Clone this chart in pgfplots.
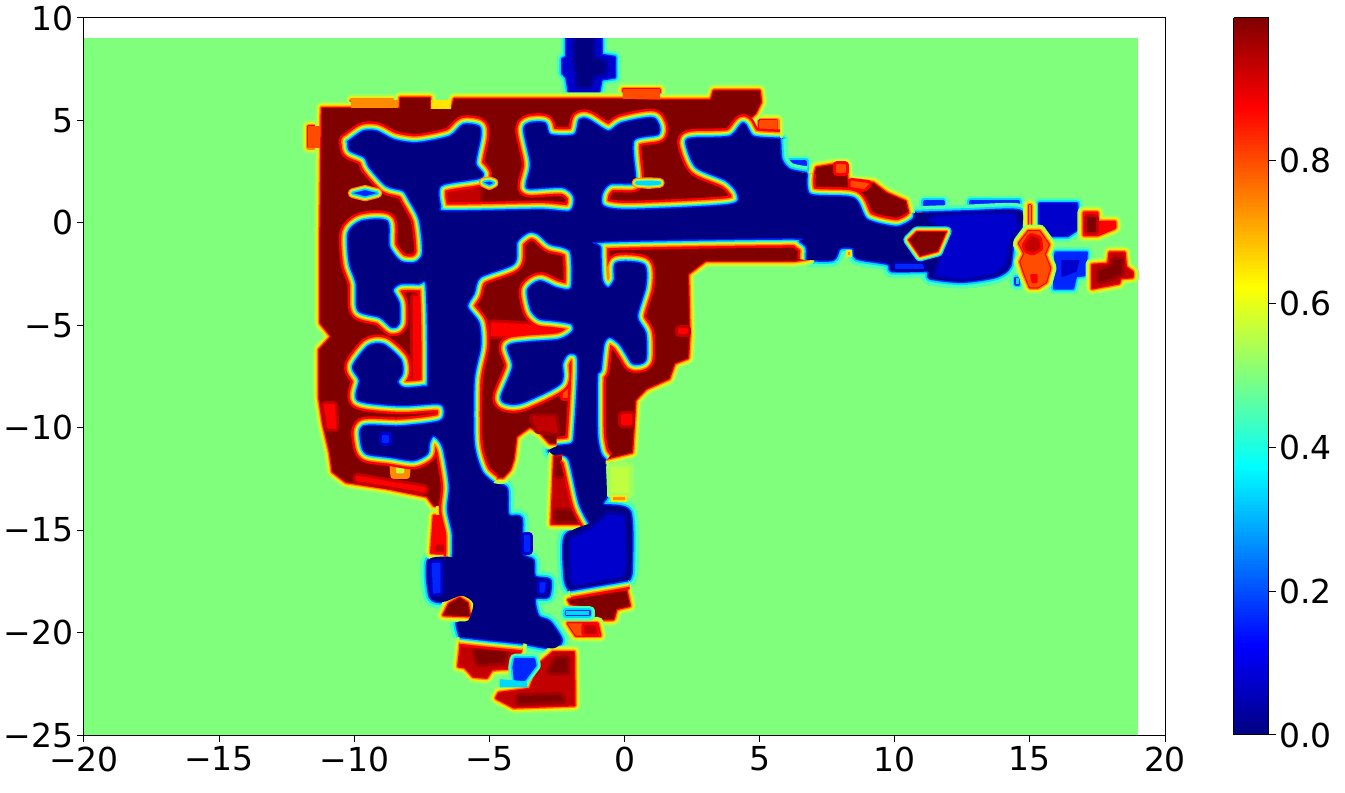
\documentclass[border=0pt]{standalone}
\usepackage{fontspec}
\setmainfont{DejaVu Sans}
\usepackage{pgfplots}
\pgfplotsset{compat=1.18}
\definecolor{jBG}{rgb}{.5,1,.49}
\definecolor{jDR}{rgb}{.5,0,0}
\definecolor{jMR}{rgb}{.63,0,0}
\definecolor{jRD}{rgb}{.76,0,0}
\definecolor{jR}{rgb}{1,0,0}
\definecolor{jRO}{rgb}{1,.3,0}
\definecolor{jO}{rgb}{1,.55,0}
\definecolor{jY}{rgb}{1,.9,0}
\definecolor{jL}{rgb}{.75,1,.25}
\definecolor{jLL}{rgb}{.62,1,.37}
\definecolor{jC}{rgb}{0,.85,1}
\definecolor{jA}{rgb}{.3,1,.7}
\definecolor{jB}{rgb}{0,.15,1}
\definecolor{jM}{rgb}{0,0,.8}
\definecolor{jMB}{rgb}{0,0,.65}
\definecolor{jDB}{rgb}{0,0,.5}
\pgfplotsset{
  st/.style={no markers,fill=none,line cap=butt,line join=round,smooth,tension=0.45},
  hl/.style={no markers,fill=none,line join=round,line cap=round}}
\newcommand\RP[2]{%
 \addplot[hl,draw=jLL,line width=13pt] coordinates {#2} -- cycle;
 \addplot[hl,draw=jL,line width=10pt] coordinates {#2} -- cycle;
 \addplot[hl,draw=jY,line width=7.5pt] coordinates {#2} -- cycle;
 \addplot[hl,draw=jO,line width=5pt] coordinates {#2} -- cycle;
 \addplot[hl,draw=jR,line width=2.5pt] coordinates {#2} -- cycle;
 \addplot[no markers,draw=none,fill=#1] coordinates {#2} -- cycle;}
\newcommand\BP[2]{%
 \addplot[hl,draw=jA,line width=11pt] coordinates {#2} -- cycle;
 \addplot[hl,draw=jC,line width=6pt] coordinates {#2} -- cycle;
 \addplot[hl,draw=jB,line width=2.5pt] coordinates {#2} -- cycle;
 \addplot[no markers,draw=none,fill=#1] coordinates {#2} -- cycle;}
\newcommand\PP[2]{\addplot[no markers,draw=#1,line width=1pt,line join=round,fill=#1] coordinates {#2} -- cycle;}
% patch with a soft edge: edge colour, colour, points
\newcommand\PM[3]{%
 \addplot[hl,draw=#1,line width=8pt] coordinates {#3} -- cycle;
 \addplot[no markers,draw=#2,line width=2pt,line join=round,fill=#2] coordinates {#3} -- cycle;}
\newcommand\SB[2]{%
 \addplot[hl,draw=jO,line width=10pt] coordinates {#2} -- cycle;
 \addplot[hl,draw=jY,line width=7.5pt] coordinates {#2} -- cycle;
 \addplot[hl,draw=jBG,line width=5.5pt] coordinates {#2} -- cycle;
 \addplot[hl,draw=jC,line width=3.5pt] coordinates {#2} -- cycle;
 \addplot[no markers,draw=none,fill=#1] coordinates {#2} -- cycle;}
\newcommand\rainX[1]{%
 \addplot[st,draw=jR,line width=19pt] coordinates {#1};
 \addplot[st,draw=jO,line width=14pt] coordinates {#1};
 \addplot[st,draw=jY,line width=11pt] coordinates {#1};
 \addplot[st,draw=jBG,line width=8.5pt] coordinates {#1};
 \addplot[st,draw=jC,line width=6pt] coordinates {#1};
 \addplot[st,draw=jB,line width=3pt] coordinates {#1};}
\newcommand\coolX[1]{%
 \addplot[st,draw=jA,line width=14pt] coordinates {#1};
 \addplot[st,draw=jC,line width=7pt] coordinates {#1};
 \addplot[st,draw=jB,line width=3pt] coordinates {#1};}
\newcommand\rain[1]{\edef\tmpc{#1}\expandafter\rainX\expandafter{\tmpc}}
\newcommand\cool[1]{\edef\tmpc{#1}\expandafter\coolX\expandafter{\tmpc}}
\newcommand\coreX[1]{\addplot[no markers,draw=none,fill=jDB,smooth,tension=0.45] coordinates {#1};}
\def\segA{(-10.2,3.96)(-9.66,4.45)(-9.17,4.45)(-8.55,4.04)(-7.69,3.88)(-6.46,4.2)(-5.96,4.77)(-5.4,4.69)(-5.35,4.2)(-5.53,2.9)(-5.28,2.25)(-6.8,1.85)(-6.83,.8)(-6.6,.55)(-3.13,.62)(-2,.55)(-1.84,1.28)(-2.27,1.76)(-3.5,1.7)(-3.6,1.93)(-3.45,2.9)(-3.7,4.53)(-3.5,4.85)(-2.95,4.85)(-2.76,4.28)(-1.84,4.28)(-1.65,5.02)(-1.34,5.02)(-.6,4.45)(-.1,4.85)(1.06,5.1)(1.25,4.37)(.32,4.04)(.38,2.25)(.3,1.95)(-.54,1.93)(-.85,1.44)(-.8,.8)(.2,.62)(3.9,.87)(4.2,1.44)(3.77,2.09)(2.67,2.74)(2.3,3.9)(2.54,4.12)(3.9,4.2)(4.4,4.85)(4.76,4.2)(5.75,4.1)}
\def\segB{(5.75,4.1)(5.8,3.1)(6.1,2.6)(6.74,2.42)}
\def\segC{(6.74,2.42)(6.86,1.37)(8.46,1.2)(8.96,.15)(10.07,-.21)(10.68,.15)(10.74,.47)}
\def\segD{(10.74,.47)(12.66,.55)(14.6,.6)(14.7,-.18)(14.4,-.83)(14.26,-2.13)(13.76,-2.62)(12.5,-2.87)(11.3,-2.7)(11.2,-2.35)(9.9,-2.35)(9.75,-2)(8.59,-1.73)(8.46,-1.24)(7.97,-1.24)(7.72,-1.8)(6.75,-1.8)}
\def\segE{(6.75,-1.8)(6.75,-1.2)(6.5,-.9)(6.12,-.75)(-.8,-.9)(-.9,-1.24)(-.85,-2.79)(-.6,-3.2)(-.35,-2.79)(-.29,-1.97)(.7,-2.06)(.76,-3.1)(.45,-4.58)(.76,-5.39)(.76,-6.69)(.33,-6.85)(.08,-6.37)(-.17,-5.88)(-.54,-5.55)(-.78,-5.88)(-.9,-7.18)(-1.03,-7.5)(-1.03,-10.27)(-.9,-11.25)(-.7,-11.6)}
\def\segF{(-.7,-11.6)(-.66,-12.7)(-.66,-13.37)(-.79,-13.77)(.2,-14.1)(.26,-16.95)(.14,-17.43)}
\def\segG{(.14,-17.43)(-2.02,-17.92)}
\def\segH{(-2.02,-17.92)(-2.2,-17.43)(-2.2,-15.3)(-1.28,-14.67)}
\def\segIa{(-1.28,-14.67)(-1.65,-13.69)(-2.02,-11.58)(-2.3,-11.3)}
\def\segIb{(-2.3,-11.3)(-2.6,-11.35)(-2.8,-11.1)(-2.5,-10.9)}
\def\segI{(-2.5,-10.9)(-1.95,-10.8)(-1.83,-10.27)(-1.7,-6.69)(-2.08,-6.37)(-2.32,-6.85)(-2.39,-7.83)(-3.74,-8.73)(-4.3,-8.8)(-4.54,-8.5)(-4.11,-7.02)(-4.3,-6.04)(-3.62,-5.85)(-2.4,-5.72)(-1.89,-5.31)(-1.95,-4.9)(-2.63,-4.74)(-3.13,-4.66)(-3.43,-4.25)(-3.56,-3.28)(-3.13,-2.87)(-2.51,-3.2)(-1.95,-3.2)(-1.95,-1.49)(-2.26,-1.16)(-2.76,-1)(-3.19,-.51)(-3.56,-.43)(-4,-.92)(-4.11,-1.97)(-5.35,-2.63)(-5.59,-3.44)(-5.84,-4.09)(-5.41,-4.9)(-5.35,-6.04)(-5.59,-7.67)(-5.59,-10.76)(-5.29,-12.15)(-4.86,-12.7)}
\def\segJ{(-4.86,-12.7)(-4.36,-12.96)(-4.3,-14.26)(-3.81,-14.42)(-3.81,-16.13)(-3.38,-16.46)(-3.32,-17.27)(-2.76,-17.43)(-2.82,-18.25)(-3.32,-18.33)(-3.19,-19.2)(-2.76,-19.47)(-2.33,-20.36)(-2.64,-20.77)(-3.75,-20.52)}
\def\segK{(-3.75,-20.52)(-4.98,-20.36)(-6.09,-20.2)}
\def\segL{(-6.09,-20.2)(-6.2,-19.5)(-5.78,-19.4)(-5.6,-18.57)(-6.03,-18.2)(-6.7,-18.5)(-7.2,-18.25)(-7.26,-16.46)(-6.34,-16.3)}
\def\segM{(-6.34,-16.3)(-6.34,-15.15)(-6.52,-14)(-6.45,-12.8)(-6.7,-10.92)(-7.07,-10.35)(-7.25,-10.76)(-7.31,-11.25)(-7.81,-11.57)(-8.67,-11.41)(-9.53,-11.25)(-9.72,-10.76)(-9.66,-9.95)(-8.3,-9.95)(-6.82,-9.7)(-6.64,-9.13)(-6.88,-8.8)(-8.3,-8.89)(-9.84,-8.64)(-9.78,-7.67)(-10.03,-7.02)(-9.47,-6.04)(-8.92,-5.96)(-8.3,-6.69)(-8.24,-7.34)(-8.42,-7.75)(-8.18,-8.07)(-7.44,-8)(-7.25,-7.67)(-7.31,-3.11)(-7.62,-2.95)(-8.3,-2.95)(-8.6,-3.28)(-8.36,-3.93)(-8.36,-4.9)(-8.6,-5.07)(-9.04,-4.58)(-9.84,-4.25)(-9.9,-2.95)(-10.15,-1.97)(-10.2,-.51)(-9.72,.06)(-8.8,.06)(-8.73,-1.16)(-8.3,-1.9)(-7.75,-1.97)(-7.44,-1.49)(-7.56,.14)(-7.93,1.11)(-8.18,1.6)(-8.8,1.84)(-9.42,2.74)(-9.6,3.22)(-10.15,3.55)(-10.2,3.96)}
\begin{document}
\begin{tikzpicture}
\useasboundingbox (-84pt,-58pt) rectangle (1261pt,735pt);
\begin{axis}[
  at={(0pt,0pt)},anchor=south west,
  scale only axis,width=1081pt,height=717pt,
  xmin=-20,xmax=20,ymin=-25,ymax=10,
  axis on top,
  axis line style={black,line width=1pt},
  tick style={black,line width=1pt},
  major tick length=7pt,
  tick align=outside,
  xtick pos=bottom,ytick pos=left,
  xtick={-20,-15,-10,-5,0,5,10,15,20},
  xticklabels={−20,−15,−10,−5,0,5,10,15,20},
  ytick={-25,-20,-15,-10,-5,0,5,10},
  yticklabels={−25,−20,−15,−10,−5,0,5,10},
  tick label style={font=\fontsize{33}{40}\selectfont},
  xticklabel style={yshift=-1pt},
  colormap/jet,
  point meta min=0,point meta max=0.998,
  colorbar sampled,
  colorbar style={
    at={(parent axis.north east)},anchor=north west,xshift=60pt,
    scale only axis,width=35pt,height=717pt,
    samples=256,
    ytick={0,0.2,0.4,0.6,0.8},
    yticklabels={0.0,0.2,0.4,0.6,0.8},
    ytick pos=right,yticklabel pos=right,
    axis line style={black,line width=1pt},
    tick style={black,line width=1pt},
    major tick length=7pt,tick align=outside,
    tick label style={font=\fontsize{33}{40}\selectfont},
  },
]
\addplot[no markers,draw=none,fill=jBG] coordinates {(-20,-25)(19,-25)(19,9)(-20,9)} -- cycle;
% top stub of free space
\BP{jM}{(-2.15,9.6)(-.85,9.6)(-.85,8.2)(-.35,8.1)(-.35,7.1)(-.85,7)(-.95,6.3)(-2.05,6.3)(-2.15,7.1)(-2.3,7.3)(-2.3,8)(-2.15,8.1)}
\PM{jMB}{jDB}{(-1.8,9.2)(-1.2,9.2)(-1.2,8)(-.75,7.8)(-.75,7.4)(-1.2,7.2)(-1.3,6.7)(-1.7,6.7)(-1.7,7.3)(-1.8,7.8)}
% light patches at the edge of the free space
\BP{jB}{(5,4.1)(5.85,4.1)(5.85,3.1)(5,3.1)}
\BP{jB}{(6.1,3)(6.7,3)(6.7,2.4)(6.1,2.4)}
\BP{jB}{(11.1,1.05)(11.8,1.05)(11.8,.4)(11.1,.4)}
\BP{jB}{(12.8,1.05)(14.6,1.05)(14.6,.4)(12.8,.4)}
% blobs at the far right
\BP{jM}{(15.35,.95)(16.75,.95)(16.8,-.3)(16.4,-.65)(15.8,-.65)(15.35,-.15)}
\BP{jB}{(15.95,-1.45)(17.1,-1.45)(17.05,-2.55)(16.7,-2.6)(16.6,-3.2)(15.9,-3.2)}
\PM{jB}{jM}{(16.2,-1.85)(16.8,-1.85)(16.7,-2.35)(16.2,-2.6)}
\BP{jC}{(14.47,-2.7)(14.6,-2.7)(14.6,-3.0)(14.47,-3.0)}
% free-space edges beside the unknown area
\cool{\segB}\cool{\segD}\cool{\segF}\cool{\segH}\cool{\segIb}\cool{\segJ}\cool{\segL}
% occupied cells
\RP{jRO}{(-11.7,4.7)(-11.1,4.7)(-11.1,3.7)(-11.7,3.7)}
\RP{jO}{(-10.1,5.6)(-8.4,5.6)(-8.4,5.95)(-10.1,5.95)}
\RP{jRO}{(-.05,6)(1.3,6)(1.3,6.5)(-.05,6.5)}
\RP{jRO}{(5,5)(5.65,5)(5.65,4.35)(5,4.35)}
\RP{jDR}{(-11.2,5.6)(-8.3,5.6)(-8.3,6.1)(-7.2,6.1)(-7.2,5.55)(-6.4,5.55)(-6.3,6.05)(-.1,6.05)(1.4,6)(3.2,6)(3.3,6.45)(5,6.45)(5.05,5.9)(4.85,5.35)(4.3,4.7)(3.4,4.1)(2.4,4.1)(2.4,3)(3.8,2.2)(4.3,1.4)(3.9,.75)(.2,.5)(-1.9,-1.2)(-1.85,-3.2)(-1.8,-5)(-1.65,-6.7)(-1.75,-10.3)(-2,-10.76)(-2.76,-10.76)(-3.1,-10.27)(-3.5,-9.95)(-4,-10.43)(-4.11,-11.57)(-4.24,-12.06)(-4.49,-12.42)(-4.98,-12.42)(-5.35,-11.98)(-6.3,-13.2)(-6.45,-13.8)(-7.05,-13.8)(-7.3,-13.35)(-8.8,-12.95)(-10.3,-12.65)(-10.8,-12.15)(-10.9,-11.2)(-11.15,-9.8)(-11.3,-8.5)(-11.3,-6.2)(-10.85,-5.55)(-11.25,-4.9)(-11.25,-.35)}
% brighter cells over the walls
\PP{jRO}{(-11.7,4.7)(-11.3,4.7)(-11.3,3.7)(-11.7,3.7)}
\PP{jO}{(-10.1,5.62)(-8.4,5.62)(-8.4,5.95)(-10.1,5.95)}
\PP{jY}{(-7.15,5.6)(-6.45,5.6)(-6.45,5.95)(-7.15,5.95)}
\PP{jRO}{(-.05,6.08)(1.3,6.05)(1.3,6.5)(-.05,6.5)}
\PP{jRO}{(5,4.95)(5.65,5)(5.65,4.35)(5,4.35)}
\PM{jRD}{jR}{(-11.1,-8.9)(-10.75,-8.9)(-10.7,-10)(-10.95,-10)}
\PM{jRD}{jR}{(-9.9,-12.4)(-7.4,-12.95)(-7.4,-13.1)(-9.9,-12.55)}
\PM{jRD}{jR}{(-4.9,-4.9)(-2.3,-5.1)(-2.3,-5.4)(-4.9,-5.5)}
\PM{jR}{jRO}{(-2.2,-6.7)(-1.95,-6.7)(-1.9,-8.5)(-2.25,-8.5)}
\PM{jRD}{jR}{(-7.8,-3.6)(-7.4,-3.6)(-7.4,-7.7)(-7.8,-7.7)}
\PM{jMR}{jRD}{(-6.5,.85)(-5.4,.85)(-5.4,1.6)(-6.5,1.6)}
\PM{jMR}{jRD}{(-3.4,-9.5)(-2.6,-9.5)(-2.5,-10.2)(-3.2,-10.1)}
% right wall, diagonal wall, far right
\RP{jDR}{(-.8,-.85)(6.1,-.7)(6.8,-1)(6.8,-1.75)(6.3,-1.85)(3,-1.85)(2.35,-2.5)(2.4,-5.5)(2.35,-6.6)(1.85,-6.85)(1.65,-7.6)(.8,-8.1)(.4,-8.65)(.28,-11.2)(-.66,-11.5)(-.9,-11.1)(-1,-7)(-.9,-1.2)}
\PM{jRD}{jR}{(2,-5.2)(2.3,-5.2)(2.3,-5.4)(2,-5.4)}
\PM{jRD}{jR}{(-.1,-9.4)(.25,-9.4)(.25,-9.8)(-.1,-9.8)}
\RP{jDR}{(7.1,2.7)(7.8,2.85)(8.2,2.85)(8.25,2.05)(9.2,1.95)(9.7,1.45)(10.4,1.05)(10.55,.2)(10.07,-.15)(9.2,.06)(8.59,1.12)(7,1.3)(6.9,1.6)}
\PM{jR}{jRO}{(7.85,2.8)(8.15,2.8)(8.15,2.5)(7.85,2.5)}
\PM{jR}{jRO}{(8.4,2)(9,1.9)(8.85,1.7)(8.4,1.8)}
\RP{jO}{(14.97,.85)(15.03,.85)(15.03,-.15)(14.97,-.15)}
\RP{jRO}{(14.6,-1)(14.95,-.4)(15.35,-.4)(15.7,-1.05)(15.55,-1.55)(15.75,-2.2)(15.6,-2.9)(15.3,-3.15)(15,-3.15)(14.8,-2.5)(14.65,-1.9)(14.8,-1.5)}
\PM{jR}{jRD}{(14.85,-1.1)(15.05,-.7)(15.3,-.8)(15.35,-1.2)(15.1,-1.4)(14.9,-1.3)}
\PM{jRO}{jR}{(15.05,-2.55)(15.25,-2.55)(15.25,-2.9)(15.1,-2.9)}
\RP{jR}{(17,.5)(17.5,.5)(17.5,.05)(18.15,.05)(18.15,-.25)(17.5,-.6)(17,-.6)}
\PM{jRD}{jDR}{(17.15,.25)(17.4,.25)(17.4,-.4)(17.15,-.4)}
\RP{jRD}{(17.3,-2.05)(17.9,-2)(17.95,-1.45)(18.5,-1.45)(18.55,-2.15)(18.8,-2.4)(18.8,-2.65)(18.35,-2.7)(18.3,-2.95)(17.3,-3.2)}
\PM{jMR}{jDR}{(17.6,-2.35)(18,-2.25)(18.15,-1.85)(18.35,-1.85)(18.35,-2.45)(17.9,-2.7)(17.6,-2.8)}
\RP{jR}{(-7.05,-14.3)(-6.55,-14.3)(-6.45,-16.1)(-7.15,-16.1)}
\PM{jR}{jRD}{(-6.95,-15.75)(-6.6,-15.75)(-6.55,-16)(-7,-16)}
\PP{jY}{(-6.95,-13.85)(-6.55,-13.85)(-6.55,-14.25)(-6.95,-14.25)}
\RP{jRD}{(-2.6,-11.4)(-2.1,-11.4)(-1.6,-13.9)(-1.4,-14.7)(-2.7,-14.7)}
\PM{jMR}{jDR}{(-2.45,-11.6)(-2.2,-11.6)(-2.05,-12.3)(-2.5,-12.3)}
\PM{jMR}{jDR}{(-2.5,-14.1)(-1.75,-14.1)(-1.6,-14.5)(-2.5,-14.5)}
\RP{jDR}{(-6.7,-19.15)(-6.5,-18.6)(-6.1,-18.3)(-5.8,-18.55)(-5.72,-19.2)}
\RP{jDR}{(-2.08,-18.4)(.07,-17.95)(.2,-18.7)(-.3,-18.85)(-.4,-19.35)(-1.05,-19.35)(-1.28,-18.8)(-2,-18.6)}
\RP{jRO}{(-2.1,-19.55)(-1,-19.55)(-.9,-20.15)(-1.8,-20.15)}
\PM{jR}{jRD}{(-1.45,-19.7)(-1.1,-19.7)(-1.05,-20)(-1.45,-20)}
\BP{jC}{(-2.15,-18.95)(-1.3,-18.95)(-1.3,-19.15)(-2.15,-19.15)}
\RP{jRD}{(-6.05,-20.5)(-3.85,-20.65)(-3.9,-21.2)(-4.2,-21.75)(-4.9,-21.8)(-5.1,-22.2)(-5.6,-22.15)(-5.9,-21.7)(-6.15,-21.65)}
\PM{jMR}{jDR}{(-5.5,-20.9)(-4.4,-20.95)(-4.5,-21.4)(-5.4,-21.5)}
\RP{jRD}{(-2.64,-20.95)(-1.87,-20.95)(-1.85,-23.55)(-4.1,-23.65)(-4.75,-23.2)(-4.65,-22.95)(-3.5,-22.75)(-3.13,-21.5)}
\PM{jMR}{jDR}{(-2.5,-21.3)(-2.15,-21.3)(-2.15,-21.9)(-2.75,-21.9)}
\PM{jMR}{jDR}{(-3.9,-23.15)(-2.4,-23.1)(-2.3,-23.3)(-3.9,-23.4)}
\BP{jB}{(-4.05,-21.3)(-3.35,-21.3)(-3.3,-21.6)(-3.7,-22.3)(-4.05,-22.3)(-4.1,-21.7)}
\PP{jC}{(-4.6,-22.3)(-3.65,-22.4)(-3.6,-22.65)(-4.6,-22.65)}
% yellowish traces beside the walls
\addplot[no markers,draw=jO,fill=jY,line width=6pt,line join=round] coordinates {(-8.6,-11.6)(-8,-11.6)(-8.05,-12.35)(-8.55,-12.35)} -- cycle;
\addplot[no markers,draw=jL,fill=jL,line width=1pt] coordinates {(-8.45,-11.75)(-8.15,-11.75)(-8.2,-12.2)(-8.4,-12.2)} -- cycle;
\addplot[hl,draw=jLL,line width=10pt] coordinates {(-.5,-11.9)(.15,-11.9)(.15,-13.2)(-.5,-13.2)} -- cycle;
\addplot[no markers,draw=none,fill=jL] coordinates {(-.5,-11.9)(.15,-11.9)(.15,-13.2)(-.5,-13.2)} -- cycle;
\addplot[no markers,draw=jY,fill=jO,line width=2pt] coordinates {(-.45,-13.35)(.05,-13.35)(.05,-13.6)(-.45,-13.6)} -- cycle;
\addplot[no markers,draw=jY,fill=jO,line width=2pt] coordinates {(8.22,-1.35)(8.38,-1.35)(8.38,-1.6)(8.22,-1.6)} -- cycle;
% free-space edges inside the walls
\rain{\segM\segA}\rain{\segC}\rain{\segE}\rain{\segG}\rain{\segIa}\rain{\segI}\rain{\segK}
% free space
\edef\tmpc{\segA\segB\segC\segD\segE\segF\segG\segH\segIa\segIb\segI\segJ\segK\segL\segM}
\expandafter\coreX\expandafter{\tmpc}
% lighter parts of the free space
\PM{jMB}{jM}{(11.55,.25)(12.66,.35)(14.4,.4)(14.5,-.18)(14.2,-.83)(14.05,-2.05)(13.6,-2.45)(12.5,-2.67)(11.55,-2.5)(11.8,-1.6)(12.2,-.4)(11.35,.15)}
\PM{jM}{jB}{(-7.1,-16.65)(-6.85,-16.65)(-6.85,-18)(-7.05,-18.05)}
\PM{jMB}{jM}{(-1.95,-15.5)(-1.2,-15)(-.6,-14.3)(-.05,-14.35)(0,-16.75)(-.1,-17.2)(-1.85,-17.62)(-1.95,-17.3)}
\PM{jM}{jB}{(-3.7,-15.3)(-3.55,-15.3)(-3.55,-16)(-3.7,-16)}
\PM{jM}{jB}{(-3.1,-17.6)(-2.95,-17.6)(-3,-18)(-3.1,-18)}
\PM{jM}{jB}{(-8.95,-10.4)(-8.75,-10.4)(-8.75,-10.7)(-8.95,-10.7)}
\PM{jMB}{jB}{(10.05,-2.05)(11,-2.05)(11.05,-2.2)(10.05,-2.2)}
% island in the right corridor
\addplot[hl,draw=jC,line width=10pt] coordinates {(10.5,-.83)(10.81,-.42)(11.92,-.42)(11.6,-1.4)(10.93,-1.64)} -- cycle;
\addplot[hl,draw=jBG,line width=7.5pt] coordinates {(10.5,-.83)(10.81,-.42)(11.92,-.42)(11.6,-1.4)(10.93,-1.64)} -- cycle;
\addplot[hl,draw=jY,line width=5pt] coordinates {(10.5,-.83)(10.81,-.42)(11.92,-.42)(11.6,-1.4)(10.93,-1.64)} -- cycle;
\addplot[hl,draw=jO,line width=3pt] coordinates {(10.5,-.83)(10.81,-.42)(11.92,-.42)(11.6,-1.4)(10.93,-1.64)} -- cycle;
\addplot[no markers,draw=jR,line width=1pt,fill=jDR] coordinates {(10.5,-.83)(10.81,-.42)(11.92,-.42)(11.6,-1.4)(10.93,-1.64)} -- cycle;
% small holes in the walls
\SB{jB}{(-10.05,1.45)(-9.6,1.6)(-9.15,1.45)(-9.6,1.3)}
\SB{jB}{(-5.2,1.98)(-5,2.02)(-4.85,1.95)(-5,1.85)}
\SB{jC}{(.45,1.95)(.9,1.98)(1.3,1.95)(.9,1.9)}
% outside the plotted points
\addplot[no markers,draw=none,fill=white] coordinates {(-20,9)(20,9)(20,10)(-20,10)} -- cycle;
\end{axis}
\end{tikzpicture}
\end{document}
